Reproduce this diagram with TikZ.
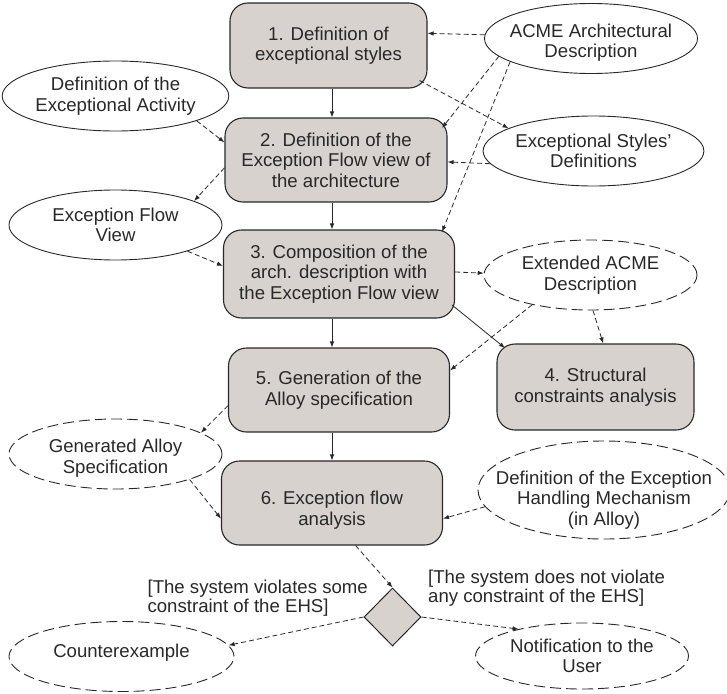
\documentclass[tikz,border=0pt]{standalone}
\usepackage{fontspec}
\setmainfont{Liberation Sans}
\usetikzlibrary{arrows.meta,shapes.geometric,calc}
\definecolor{boxfill}{RGB}{216,210,206}
\definecolor{ink}{RGB}{40,40,40}
\begin{document}
\begin{tikzpicture}[x=1pt,y=-1pt,
  every node/.style={font=\fontsize{18.6}{20.5}\selectfont, text=ink},
  stepbox/.style={draw=ink, line width=1.1pt, fill=boxfill, rounded corners=18pt,
    align=center, inner sep=0pt},
  artifact/.style={ellipse, draw=ink, line width=0.9pt, align=center, inner sep=0pt,
    minimum width=213pt, minimum height=70pt},
  derived/.style={artifact, dash pattern=on 11pt off 5pt},
  caption/.style={align=center, inner sep=0pt, yshift=#1},
  gate/.style={diamond, draw=ink, line width=1pt, fill=boxfill, inner sep=0pt,
    minimum width=57pt, minimum height=58pt},
  guard/.style={align=left, anchor=west, inner sep=0pt,
    font=\fontsize{18.6}{19}\selectfont},
  flow/.style={-{Latex[length=6pt,width=4.5pt]}, line width=0.8pt, draw=ink},
  dep/.style={flow, dash pattern=on 5pt off 3pt},
]
\useasboundingbox (0,0) rectangle (727,693);

% process steps
\node[stepbox, minimum width=197pt, minimum height=85pt] (box1) at (328.5,45.5)
  {1. Definition of\\exceptional styles};
\node[stepbox, minimum width=222pt, minimum height=84pt] (box2) at (336,160)
  {2. Definition of the\\Exception Flow view of\\the architecture};
\node[stepbox, minimum width=231pt, minimum height=88pt] (box3) at (339,274)
  {3. Composition of the\\arch. description with\\the Exception Flow view};
\node[stepbox, minimum width=197pt, minimum height=86pt] (box4) at (595.5,387)
  {4. Structural\\constraints analysis};
\node[stepbox, minimum width=221pt, minimum height=84pt] (box5) at (339,390)
  {5. Generation of the\\Alloy specification};
\node[stepbox, minimum width=221pt, minimum height=84pt,
  label={[caption=-7pt]center:{6. Exception flow\\analysis}}] (box6) at (332,503) {};

% input and output artifacts
\node[artifact, label={[caption=-4pt]center:{ACME Architectural\\Description}}]
  (acme) at (591,38.5) {};
\node[artifact] (defact) at (115.5,96) {Definition of the\\Exceptional Activity};
\node[artifact] (styles) at (593.5,151) {Exceptional Styles'\\Definitions};
\node[artifact] (efv) at (115.5,225) {Exception Flow\\View};
\node[derived] (ext) at (590.5,275) {Extended ACME\\Description};
\node[derived, label={[caption=-4pt]center:{Generated Alloy\\Specification}}]
  (gen) at (115.5,454) {};
\node[derived, minimum width=252pt, minimum height=98pt,
  label={[caption=-10pt]center:{Definition of the Exception\\Handling Mechanism\\(in Alloy)}}]
  (ehm) at (604,490) {};
\node[derived, minimum width=225pt, label={[caption=4pt]center:Counterexample}]
  (counter) at (121.5,656.5) {};
\node[derived, minimum height=66pt] (notif) at (582,656) {Notification to the\\User};

% decision
\node[gate] (gate) at (392.5,617) {};
\node[guard] (violates) at (147.4,598) {[The system violates some\\constraint of the EHS]};
\node[guard] (holds) at (428,588.5) {[The system does not violate\\any constraint of the EHS]};

% main control flow
\coordinate (spine) at (332,0);
\draw[flow] (box1.south -| spine) -- (box2.north -| spine);
\draw[flow] (box2.south -| spine) -- (box3.north -| spine);
\draw[flow] (box3.south -| spine) -- (box5.north -| spine);
\draw[flow] (box5.south -| spine) -- (box6.north -| spine);
\draw[flow] ($(box3)+(113,31)$) -- ($(box4)+(-90.5,-39)$);

% artifact dependencies
\draw[dep] (acme.178) -- (box1.7);
\draw[dep] ($(box1)+(91,35)$) -- (styles.165);
\draw[dep] (acme.191) -- ($(box2)+(106,-32)$);
\draw[dep] (acme.196) -- ($(box3)+(103,-42)$);
\draw[dep] (styles.187) -- (box2.359);
\draw[dep] (defact.-17) -- (box2.171);
\draw[dep] (box2.184) -- (efv.17);
\draw[dep] (efv.-20) -- (box3.176);
\draw[dep] (box3.1) -- (ext.179);
\draw[dep] (ext.207) -- (box5.10);
\draw[dep] (ext.-86) -- (box4.80);
\draw[dep] (box5.188) -- (gen.14);
\draw[dep] (gen.-19) -- (box6.188);
\draw[dep] (ehm.188) -- (box6.-8);
\draw[dep] (box6.-61) -- (gate.north);
\draw[dep] (gate.west) -- (counter.6);
\draw[dep] (gate.east) -- (notif.157);
\end{tikzpicture}
\end{document}
